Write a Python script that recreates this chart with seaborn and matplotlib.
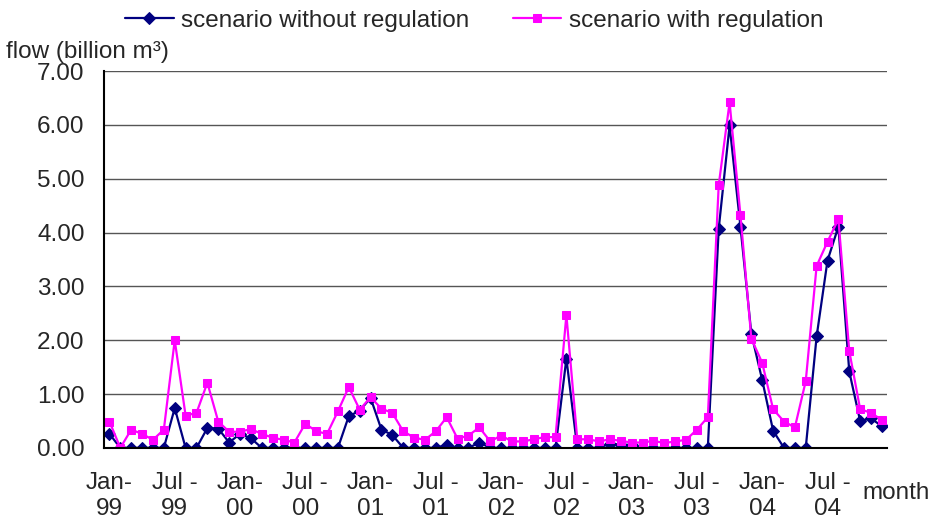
import numpy as np
import pandas as pd
import matplotlib
matplotlib.use("Agg")
import matplotlib.pyplot as plt
import seaborn as sns

# monthly flow Jan-1999 .. Dec-2004 (billion m3)
without_reg = [0.26, 0, 0, 0, 0, 0, 0.74, 0, 0, 0.37, 0.36, 0.10,
               0.26, 0.18, 0, 0, 0, 0, 0, 0, 0, 0, 0.59, 0.69,
               0.93, 0.34, 0.24, 0, 0, 0, 0, 0.06, 0, 0, 0.10, 0,
               0, 0, 0, 0, 0, 0, 1.66, 0, 0, 0, 0.08, 0.06,
               0.05, 0, 0, 0, 0, 0, 0, 0, 4.07, 5.99, 4.11, 2.12,
               1.26, 0.32, 0, 0, 0, 2.07, 3.48, 4.11, 1.42, 0.50, 0.55, 0.40]
with_reg = [0.49, 0.0, 0.34, 0.26, 0.15, 0.34, 2.00, 0.60, 0.65, 1.21, 0.49, 0.30,
            0.30, 0.35, 0.26, 0.19, 0.15, 0.10, 0.45, 0.31, 0.26, 0.68, 1.13, 0.71,
            0.94, 0.73, 0.65, 0.31, 0.19, 0.15, 0.31, 0.57, 0.17, 0.23, 0.38, 0.12,
            0.23, 0.12, 0.12, 0.16, 0.20, 0.20, 2.47, 0.16, 0.16, 0.12, 0.16, 0.13,
            0.10, 0.10, 0.13, 0.09, 0.12, 0.15, 0.34, 0.57, 4.88, 6.42, 4.32, 2.03,
            1.58, 0.72, 0.49, 0.38, 1.24, 3.38, 3.83, 4.25, 1.80, 0.72, 0.65, 0.52]
tick_labels = ["Jan-\n99", "Jul -\n99", "Jan-\n00", "Jul -\n00", "Jan-\n01", "Jul -\n01",
               "Jan-\n02", "Jul -\n02", "Jan-\n03", "Jul -\n03", "Jan-\n04", "Jul -\n04"]

month = np.arange(len(without_reg))
df = pd.DataFrame({"month": month, "without": without_reg, "with": with_reg})

sns.set_style("white")
plt.rcParams["font.family"] = ["Liberation Sans", "DejaVu Sans"]
fs = 17.5

fig = plt.figure(figsize=(9.37, 5.19), dpi=100)
ax = fig.add_axes([0.111, 0.137, 0.836, 0.726])

sns.lineplot(data=df, x="month", y="without", ax=ax, color="#000080", marker="D",
             markersize=5.8, markeredgecolor="#000080", linewidth=1.6,
             label="scenario without regulation")
sns.lineplot(data=df, x="month", y="with", ax=ax, color="#FF00FF", marker="s",
             markersize=6.3, markeredgecolor="#FF00FF", linewidth=1.6,
             label="scenario with regulation")

ax.set_xlim(-0.5, 71.5)
ax.set_ylim(0, 7)
ax.set_yticks(np.arange(0, 8, 1))
ax.set_yticklabels([f"{v:.2f}" for v in np.arange(0, 8, 1)], fontsize=fs)
ax.yaxis.grid(True, color="#555555", linewidth=1)
ax.set_axisbelow(True)

ax.set_xticks(np.arange(0, 72, 6))
ax.set_xticklabels(tick_labels, fontsize=fs, linespacing=1.25)
ax.set_xticks(np.arange(5.5, 72, 6), minor=True)
ax.tick_params(axis="x", which="major", length=0, pad=17)
ax.tick_params(axis="x", which="minor", direction="in", length=5, width=1.2, color="black")
ax.tick_params(axis="y", direction="in", length=5, width=1.2, color="black", pad=14)

for s in ["top", "right"]:
    ax.spines[s].set_visible(False)
for s in ["left", "bottom"]:
    ax.spines[s].set_color("black")
    ax.spines[s].set_linewidth(1.5)

ax.set_xlabel("")
ax.set_ylabel("")
ax.get_legend().remove()

handles, labels = ax.get_legend_handles_labels()
fig.legend(handles, labels, loc="center", bbox_to_anchor=(0.506, 0.96), ncol=2,
           frameon=False, fontsize=fs, handlelength=2.0, columnspacing=1.8,
           handletextpad=0.3)

fig.text(0.006, 0.9, "flow (billion m³)", fontsize=fs, va="center", ha="left")
fig.text(0.92, 0.05, "month", fontsize=fs, va="center", ha="left")

fig.savefig("out.png", dpi=100)
